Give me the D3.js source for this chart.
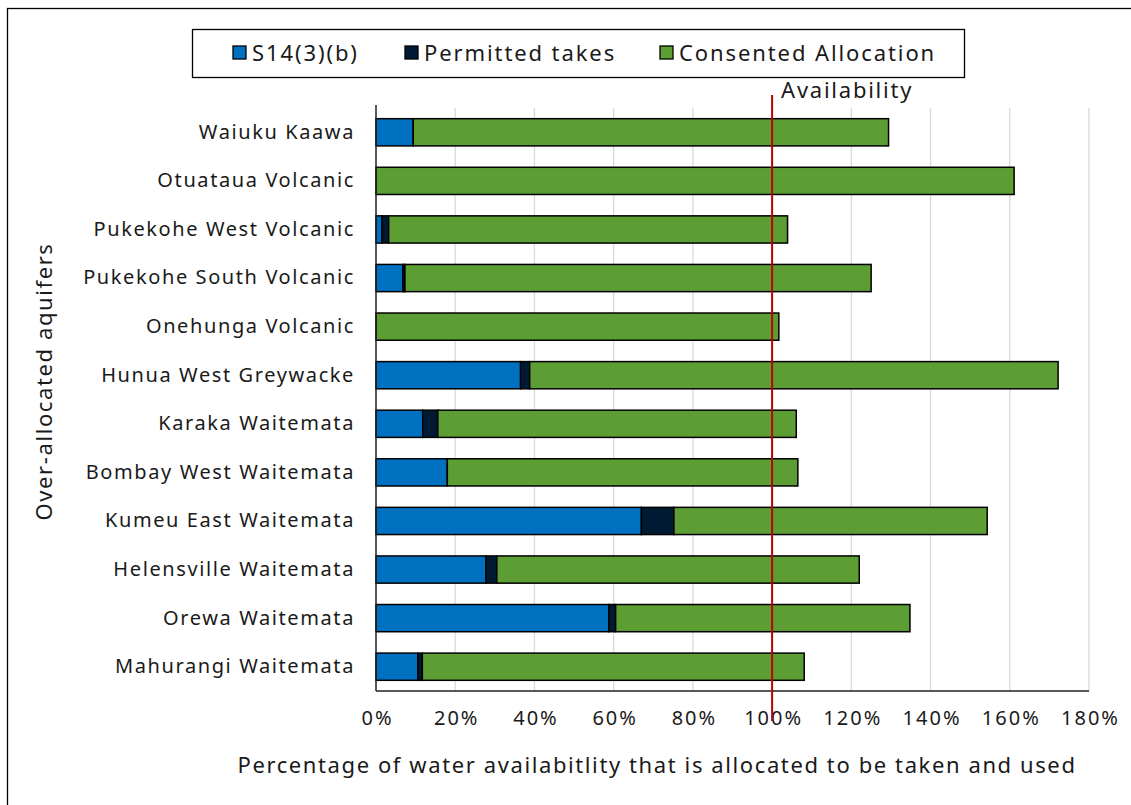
<!DOCTYPE html>
<html>
<head>
<meta charset="utf-8">
<script src="https://cdn.jsdelivr.net/npm/d3@7"></script>
<style>
  body { margin: 0; background: #fff; }
  text { font-family: "Noto Sans", "Open Sans", sans-serif; fill: #1a1a1a; }
</style>
</head>
<body>
<svg id="chart"></svg>
<script>
// aquifers, top to bottom
const aquifers = [
  'Waiuku Kaawa', 'Otuataua Volcanic', 'Pukekohe West Volcanic', 'Pukekohe South Volcanic',
  'Onehunga Volcanic', 'Hunua West Greywacke', 'Karaka Waitemata', 'Bombay West Waitemata',
  'Kumeu East Waitemata', 'Helensville Waitemata', 'Orewa Waitemata', 'Mahurangi Waitemata',
];
// percentages of availability (%)
const s14 = [9.4, 0, 1.5, 6.8, 0, 36.5, 11.8, 18.0, 67.0, 27.8, 58.8, 10.6];
const permitted = [0, 0, 1.7, 0.5, 0, 2.3, 3.8, 0, 8.2, 2.7, 1.7, 1.1];
const consented = [120.0, 161.1, 100.7, 117.7, 101.7, 133.4, 90.5, 88.5, 79.1, 91.5, 74.3, 96.4];
const xTicks = [0, 20, 40, 60, 80, 100, 120, 140, 160, 180];
const seriesNames = ['S14(3)(b)', 'Permitted takes', 'Consented Allocation'];
const seriesColors = ['#0070C0', '#001A33', '#5C9D34'];
const availability = 100;

const config = {
  width: 1131,
  height: 805,
  margin: { top: 108, right: 42, bottom: 114, left: 376 },
};

const svg = d3.select('#chart')
  .attr('width', config.width)
  .attr('height', config.height);

const innerW = config.width - config.margin.left - config.margin.right;
const innerH = config.height - config.margin.top - config.margin.bottom;

// outer frame
svg.append('rect')
  .attr('x', 7.5).attr('y', 8.5)
  .attr('width', config.width).attr('height', config.height)
  .attr('fill', 'none').attr('stroke', '#000').attr('stroke-width', 1.3);

const chart = svg.append('g')
  .attr('transform', `translate(${config.margin.left},${config.margin.top})`);

const xScale = d3.scaleLinear().domain([0, 180]).range([0, innerW]);
const yScale = d3.scaleBand().domain(aquifers).range([0, innerH]).paddingInner(0.44).paddingOuter(0.22);

// gridlines
chart.append('g')
  .selectAll('line')
  .data(xTicks.slice(1))
  .join('line')
  .attr('x1', (d) => xScale(d)).attr('x2', (d) => xScale(d))
  .attr('y1', 0).attr('y2', innerH)
  .attr('stroke', '#d9d9d9').attr('stroke-width', 1.3);

// stacked data
const rows = aquifers.map((a, i) => ({ name: a, s14: s14[i], permitted: permitted[i], consented: consented[i] }));
const stack = d3.stack().keys(['s14', 'permitted', 'consented'])(rows);

chart.append('g')
  .selectAll('g')
  .data(stack)
  .join('g')
  .attr('fill', (d, i) => seriesColors[i])
  .selectAll('rect')
  .data((d) => d.filter((v) => v[1] - v[0] > 0))
  .join('rect')
  .attr('x', (d) => xScale(d[0]))
  .attr('width', (d) => xScale(d[1]) - xScale(d[0]))
  .attr('y', (d) => yScale(d.data.name))
  .attr('height', yScale.bandwidth())
  .attr('stroke', '#000')
  .attr('stroke-width', 1.5);

// axes lines
chart.append('line')
  .attr('x1', 0).attr('x2', 0).attr('y1', -3).attr('y2', innerH)
  .attr('stroke', '#222').attr('stroke-width', 1.5);
chart.append('line')
  .attr('x1', 0).attr('x2', innerW).attr('y1', innerH).attr('y2', innerH)
  .attr('stroke', '#222').attr('stroke-width', 1.5);

// x tick labels
const xAxis = d3.axisBottom(xScale)
  .tickValues(xTicks)
  .tickSize(0)
  .tickPadding(20)
  .tickFormat((d) => `${d}%`);
chart.append('g')
  .attr('transform', `translate(1,${innerH})`)
  .call(xAxis)
  .call((g) => g.select('.domain').remove())
  .call((g) => g.selectAll('text')
    .attr('font-size', 20)
    .attr('letter-spacing', 2)
    .attr('font-family', '"Noto Sans", sans-serif')
    .attr('fill', '#1a1a1a'));

// y category labels
const yAxis = d3.axisLeft(yScale).tickSize(0).tickPadding(21);
chart.append('g')
  .call(yAxis)
  .call((g) => g.select('.domain').remove())
  .call((g) => g.selectAll('text')
    .attr('font-size', 20)
    .attr('letter-spacing', 1.6)
    .attr('font-family', '"Noto Sans", sans-serif')
    .attr('fill', '#1a1a1a'));

// availability line
chart.append('line')
  .attr('x1', xScale(availability)).attr('x2', xScale(availability))
  .attr('y1', -13).attr('y2', innerH + 30)
  .attr('stroke', '#C00000').attr('stroke-width', 2);
chart.append('text')
  .attr('x', xScale(availability) + 9)
  .attr('y', -10)
  .attr('font-size', 22)
  .attr('letter-spacing', 1.75)
  .text('Availability');

// axis titles
svg.append('text')
  .attr('x', 657)
  .attr('y', 773)
  .attr('text-anchor', 'middle')
  .attr('font-size', 22)
  .attr('letter-spacing', 1.6)
  .text('Percentage of water availabitlity that is allocated to be taken and used');

svg.append('text')
  .attr('transform', `translate(52,${config.margin.top + innerH / 2 - 18}) rotate(-90)`)
  .attr('text-anchor', 'middle')
  .attr('font-size', 22)
  .attr('letter-spacing', 1.6)
  .text('Over-allocated aquifers');

// legend
const legend = svg.append('g');
legend.append('rect')
  .attr('x', 192.5).attr('y', 29.5).attr('width', 772).attr('height', 48)
  .attr('fill', '#fff').attr('stroke', '#000').attr('stroke-width', 1.3);
const legendX = [233, 405, 660];
const items = legend.selectAll('.legend-item')
  .data(seriesNames)
  .join('g')
  .attr('class', 'legend-item')
  .attr('transform', (d, i) => `translate(${legendX[i]},46)`);
items.append('rect')
  .attr('width', 13).attr('height', 13)
  .attr('fill', (d, i) => seriesColors[i])
  .attr('stroke', '#000').attr('stroke-width', 1.3);
items.append('text')
  .attr('x', 19).attr('y', 15)
  .attr('font-size', 22)
  .attr('letter-spacing', 1.9)
  .text((d) => d);
</script>
</body>
</html>
